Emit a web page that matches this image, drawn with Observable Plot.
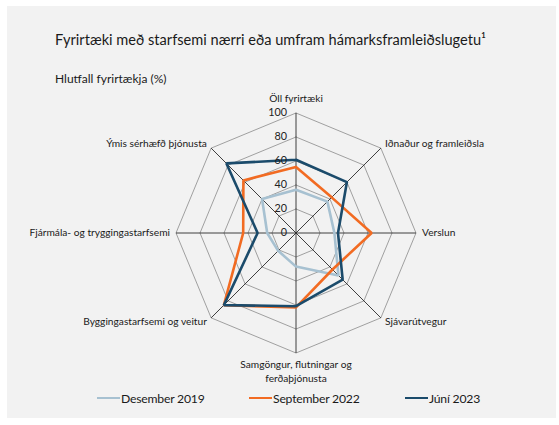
<!DOCTYPE html>
<html>
<head>
<meta charset="utf-8">
<script src="https://cdn.jsdelivr.net/npm/d3@7"></script>
<script src="https://cdn.jsdelivr.net/npm/@observablehq/plot@0.6"></script>
<style>
  html, body { margin: 0; padding: 0; background: #ffffff; }
  body { width: 559px; height: 425px; position: relative; overflow: hidden; font-family: Lato, "Open Sans", sans-serif; color: #1a1a1a; }
  #panel { position: absolute; left: 7px; top: 6px; width: 549px; height: 412px; background: #f2f2f2; }
  #title { position: absolute; left: 55px; top: 31px; font-size: 14.6px; white-space: nowrap; }
  #subtitle { position: absolute; left: 55px; top: 71px; font-size: 12px; white-space: nowrap; }
  #chart { position: absolute; left: 0; top: 90px; }
  #legend { position: absolute; left: 0; top: 388px; width: 559px; height: 20px; font-size: 12.2px; letter-spacing: -0.2px; }
  .item { position: absolute; top: 0; display: flex; align-items: center; height: 20px; white-space: nowrap; }
  .sw { width: 23px; height: 2.6px; margin-right: 1px; }
</style>
</head>
<body>
<div id="panel"></div>
<div id="title">Fyrirtæki með starfsemi nærri eða umfram hámarksframleiðslugetu¹</div>
<div id="subtitle">Hlutfall fyrirtækja (%)</div>
<div id="chart"></div>
<div id="legend"></div>
<script>
// ---- data ----
const categories = [
  "Öll fyrirtæki",
  "Iðnaður og framleiðsla",
  "Verslun",
  "Sjávarútvegur",
  "Samgöngur, flutningar og\nferðaþjónusta",
  "Byggingastarfsemi og veitur",
  "Fjármála- og tryggingastarfsemi",
  "Ýmis sérhæfð þjónusta"
];
const seriesNames = ["Desember 2019", "September 2022", "Júní 2023"];
const des2019 = [36, 37, 32, 50, 28, 21, 24, 40];
const sep2022 = [55, 42, 63, 43, 62, 85, 44, 62];
const jun2023 = [61, 60, 35, 55, 61, 85, 32, 82];
const tickValues = [0, 20, 40, 60, 80, 100];
const seriesColors = ["#a7c1d1", "#f26b22", "#1b4b6b"];

// ---- helpers ----
const n = categories.length;
const polar = (v, i) => {
  const a = (i % n) * 2 * Math.PI / n;
  return { x: v * Math.sin(a), y: v * Math.cos(a) };
};
const maxV = tickValues[tickValues.length - 1];
const labelR = maxV * 1.05;

const seriesValues = [des2019, sep2022, jun2023];
const seriesData = [];
seriesValues.forEach((vals, s) => {
  for (let i = 0; i <= n; i++) {
    const p = polar(vals[i % n], i);
    seriesData.push({ series: seriesNames[s], order: s, x: p.x, y: p.y });
  }
});

const ringData = [];
tickValues.filter(t => t > 0).forEach(t => {
  for (let i = 0; i <= n; i++) {
    const p = polar(t, i);
    ringData.push({ ring: t, x: p.x, y: p.y });
  }
});

const spokes = categories.map((c, i) => {
  const a = polar(0, i), b = polar(maxV, i);
  return { x1: a.x, y1: a.y, x2: b.x, y2: b.y };
});

const labels = categories.map((c, i) => {
  const p = polar(labelR, i);
  return { label: c, i, x: p.x, y: p.y };
});

const ticks = tickValues.map(t => ({ t, ...polar(t, 0) }));

const chart = Plot.plot({
  width: 559,
  height: 300,
  marginLeft: 163.5,
  marginRight: 131.5,
  marginTop: 10.5,
  marginBottom: 25.5,
  x: { domain: [-110, 110], axis: null },
  y: { domain: [-110, 110], axis: null },
  color: { domain: seriesNames, range: seriesColors },
  style: { background: "transparent", overflow: "visible", fontFamily: "Lato, 'Open Sans', sans-serif", color: "#1a1a1a" },
  marks: [
    Plot.line(ringData, { x: "x", y: "y", z: "ring", stroke: "#8a8a8a", strokeWidth: 0.8 }),
    Plot.link(spokes, { x1: "x1", y1: "y1", x2: "x2", y2: "y2", stroke: "#2a2a2a", strokeWidth: 0.9 }),
    Plot.line(seriesData, { x: "x", y: "y", z: "series", stroke: "series", strokeWidth: 2.6, strokeLinejoin: "miter" }),
    Plot.text(ticks, { x: "x", y: "y", text: d => String(d.t), textAnchor: "end", dx: -9, fontSize: 10.8, fill: "#222" }),
    Plot.text(labels.filter(d => d.i === 0), { x: "x", y: "y", text: "label", lineAnchor: "bottom", dy: -5, fontSize: 10.2, fill: "#1a1a1a" }),
    Plot.text(labels.filter(d => d.i === n / 2), { x: "x", y: "y", text: "label", lineAnchor: "top", fontSize: 10.2, lineHeight: 1.3, fill: "#1a1a1a" }),
    Plot.text(labels.filter(d => d.i > 0 && d.i < n / 2), { x: "x", y: "y", text: "label", textAnchor: "start", fontSize: 10.2, fill: "#1a1a1a" }),
    Plot.text(labels.filter(d => d.i > n / 2), { x: "x", y: "y", text: "label", textAnchor: "end", fontSize: 10.2, fill: "#1a1a1a" })
  ]
});
document.getElementById("chart").appendChild(chart);

// legend
const legendX = [97, 249, 405];
const legend = document.getElementById("legend");
seriesNames.forEach((name, s) => {
  const item = document.createElement("div");
  item.className = "item";
  item.style.left = legendX[s] + "px";
  const sw = document.createElement("span");
  sw.className = "sw";
  sw.style.background = seriesColors[s];
  const tx = document.createElement("span");
  tx.textContent = name;
  item.appendChild(sw);
  item.appendChild(tx);
  legend.appendChild(item);
});
</script>
</body>
</html>
